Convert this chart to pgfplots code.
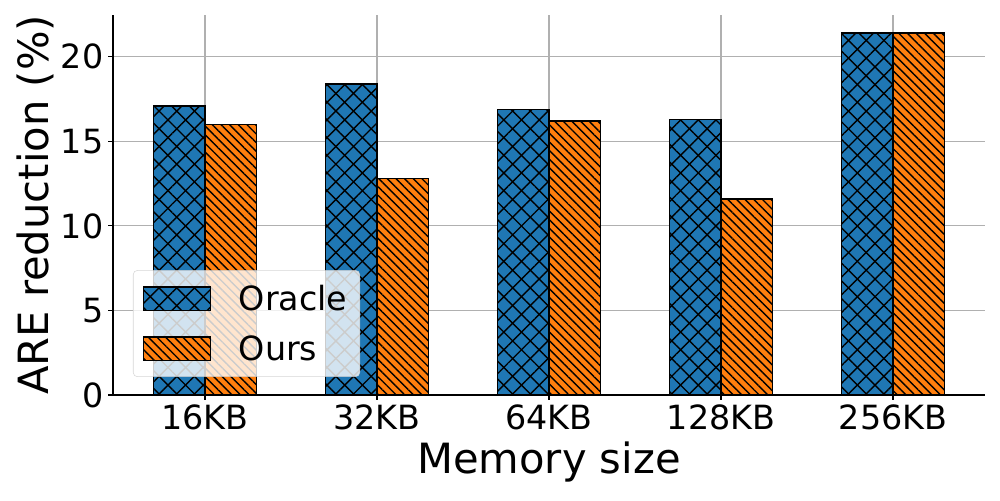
\documentclass[border=0pt]{standalone}
\usepackage{fontspec}
\setmainfont{DejaVu Sans}
\usepackage{pgfplots}
\pgfplotsset{compat=1.18}
\usetikzlibrary{patterns.meta}

\definecolor{oracle}{HTML}{1F77B4}
\definecolor{ours}{HTML}{FF7F0E}
\definecolor{gridgray}{HTML}{B0B0B0}

\pgfplotsset{
    boxlegend/.style={
        legend image code/.code={%
            \draw[##1, sharp corners, fill opacity=1, draw opacity=1] (0pt,-8.4pt) rectangle (48pt,8.4pt);}
    },
}

\begin{document}
\begin{tikzpicture}
% page = 1000 x 500 px, 1 px = 0.72 pt
\useasboundingbox (-81.36pt,-75.6pt) rectangle (638.64pt,284.4pt);
\begin{axis}[
    at={(0,0)}, anchor=south west,
    scale only axis,
    width=627.84pt, height=273.6pt,
    xmin=-0.535, xmax=4.535,
    ymin=0, ymax=22.47,
    axis x line*=bottom, axis y line*=left,
    axis line style={-, black, line width=0.8pt},
    xtick={0,1,2,3,4},
    xticklabels={16KB,32KB,64KB,128KB,256KB},
    ytick={0,5,10,15,20},
    /pgf/number format/assume math mode=true,
    tick label style={font=\fontsize{24}{28}\selectfont},
    tick align=outside,
    major tick length=3.5pt,
    tick style={black, line width=0.8pt},
    grid=major,
    major grid style={gridgray, line width=0.8pt},
    xlabel={Memory size},
    ylabel={ARE reduction (\%)},
    label style={font=\fontsize{30}{36}\selectfont},
    xlabel style={at={(axis description cs:0.5,-0.176)}, anchor=center},
    ylabel style={at={(axis description cs:-0.0894,0.5)}, anchor=center},
    legend style={
        at={(0.0229,0.0474)}, anchor=south west,
        font=\fontsize{24}{28}\selectfont,
        fill=white, fill opacity=0.8, draw opacity=0.8, text opacity=1,
        draw=black!20, rounded corners=3pt,
        row sep=12.5pt, inner xsep=7pt, inner ysep=8.5pt,
    },
    legend cell align=left,
    bar width=0.3,
]

\addplot[ybar, bar shift=-0.15, fill=oracle, draw=black, line width=1pt,
    postaction={pattern={Lines[angle=45,distance=9pt,line width=1pt]}},
    postaction={pattern={Lines[angle=-45,distance=9pt,line width=1pt]}},
    boxlegend]
    coordinates {(0,17.1) (1,18.4) (2,16.9) (3,16.3) (4,21.4)};
\addlegendentry{\hspace{18pt}Oracle}

\addplot[ybar, bar shift=0.15, fill=ours, draw=black, line width=1pt,
    postaction={pattern={Lines[angle=-45,distance=4.4pt,line width=1pt]}},
    boxlegend]
    coordinates {(0,16.0) (1,12.8) (2,16.2) (3,11.6) (4,21.4)};
\addlegendentry{\hspace{18pt}Ours}

\end{axis}
\end{tikzpicture}
\end{document}
